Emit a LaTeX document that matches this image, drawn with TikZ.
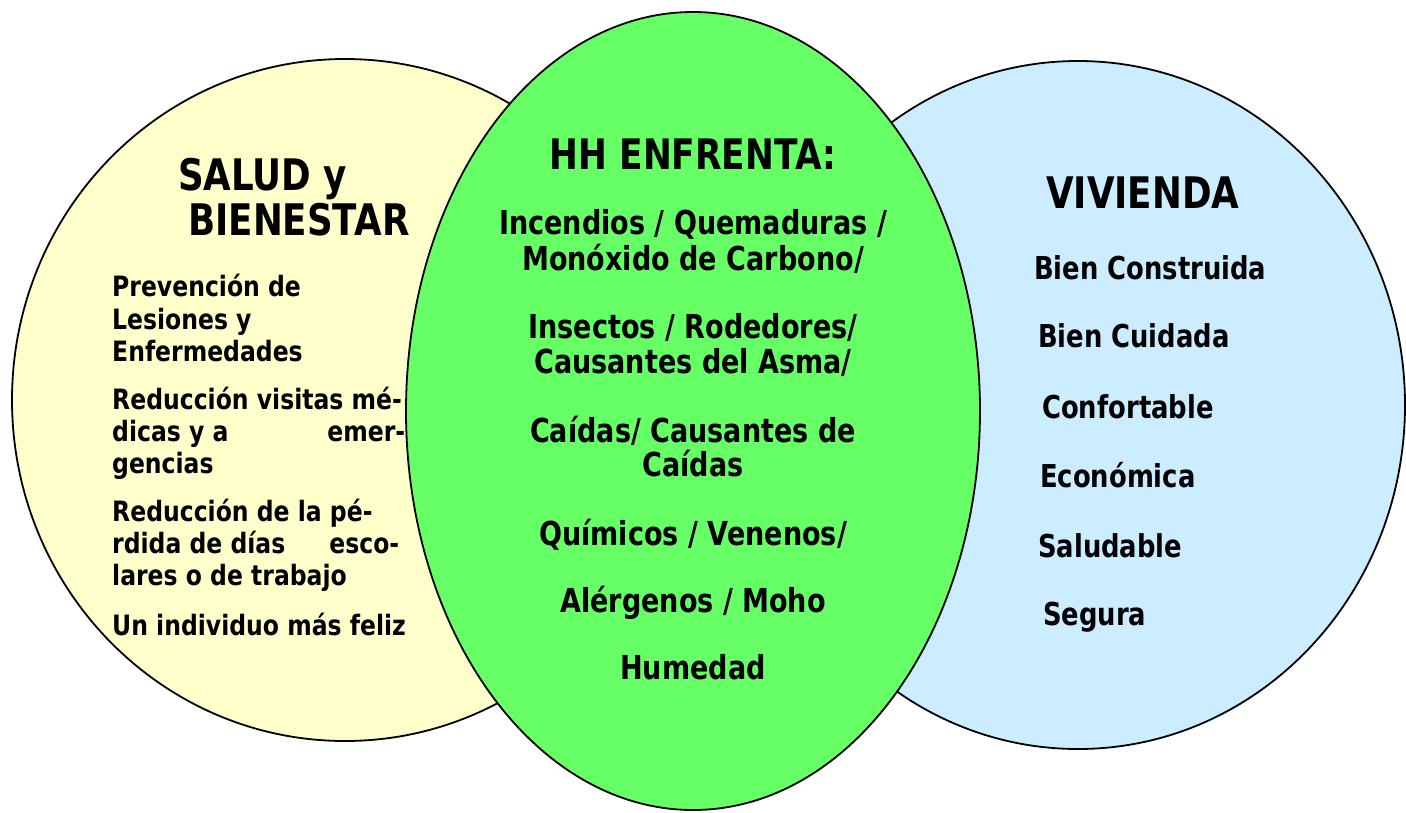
\documentclass[tikz,border=0pt]{standalone}
\usepackage{fontspec}
\newfontfamily\tah{DejaVu Sans Bold}[FakeStretch=0.82]
\newfontfamily\tahl{DejaVu Sans Bold}[FakeStretch=0.84]
\definecolor{saludfill}{HTML}{FFFFCC}
\definecolor{hhfill}{HTML}{66FF66}
\definecolor{vivfill}{HTML}{CCECFF}
\tikzset{
  venn/.style={draw=black, line width=1.8pt},
  titletext/.style={inner sep=0pt, font=\tah\fontsize{43.5}{46}\selectfont},
  hhtitle/.style={inner sep=0pt, font=\tah\fontsize{42}{46}\selectfont},
  lefttext/.style={inner sep=0pt, anchor=base west, font=\tahl\fontsize{28}{30}\selectfont},
  midtext/.style={inner sep=0pt, anchor=base, font=\tah\fontsize{33}{36}\selectfont},
  righttext/.style={inner sep=0pt, anchor=base west, font=\tah\fontsize{31.5}{34}\selectfont}
}
\begin{document}
\begin{tikzpicture}[x=1pt,y=-1pt]
\useasboundingbox (0,0) rectangle (1406,812);
% circles
\draw[venn, fill=saludfill] (345,400) ellipse [x radius=333, y radius=341];
\draw[venn, fill=vivfill] (1078,405) ellipse [x radius=327, y radius=344];
\draw[venn, fill=hhfill] (693,411) ellipse [x radius=287, y radius=399];
% left titles
\node[titletext, anchor=base west] (t1a) at (178,190) {SALUD y};
\node[titletext, anchor=base west] (t1b) at (188,235) {BIENESTAR};
% left items
\node[lefttext] (l1) at (112,296) {Prevención de};
\node[lefttext] (l2) at (112,329) {Lesiones y};
\node[lefttext] (l3) at (112,361) {Enfermedades};
\node[lefttext] (l4) at (112,409) {Reducción visitas mé-};
\node[lefttext] (l5) at (112,441) {\hbox to 293pt{dicas y a\hfill emer-}};
\node[lefttext] (l6) at (112,473) {gencias};
\node[lefttext] (l7) at (112,521) {Reducción de la pé-};
\node[lefttext] (l8) at (112,553) {\hbox to 287pt{rdida de días\hfill esco-}};
\node[lefttext] (l9) at (112,585) {lares o de trabajo};
\node[lefttext] (l10) at (112,635) {Un individuo más feliz};
% middle
\node[hhtitle, anchor=base] (t2) at (693,169) {HH ENFRENTA:};
\node[midtext] (m1) at (693,234) {Incendios / Quemaduras /};
\node[midtext] (m2) at (693,270) {Monóxido de Carbono/};
\node[midtext] (m3) at (693,338) {Insectos / Rodedores/};
\node[midtext] (m4) at (693,373) {Causantes del Asma/};
\node[midtext] (m5) at (693,442) {Caídas/ Causantes de};
\node[midtext] (m6) at (693,476) {Caídas};
\node[midtext] (m7) at (693,545) {Químicos / Venenos/};
\node[midtext] (m8) at (693,612) {Alérgenos / Moho};
\node[midtext] (m9) at (693,679) {Humedad};
% right
\node[titletext, anchor=base west] (t3) at (1046,208) {VIVIENDA};
\node[righttext] (r1) at (1034,279) {Bien Construida};
\node[righttext] (r2) at (1038,347) {Bien Cuidada};
\node[righttext] (r3) at (1042,418) {Confortable};
\node[righttext] (r4) at (1040,487) {Económica};
\node[righttext] (r5) at (1038,557) {Saludable};
\node[righttext] (r6) at (1043,625) {Segura};
\end{tikzpicture}
\end{document}
